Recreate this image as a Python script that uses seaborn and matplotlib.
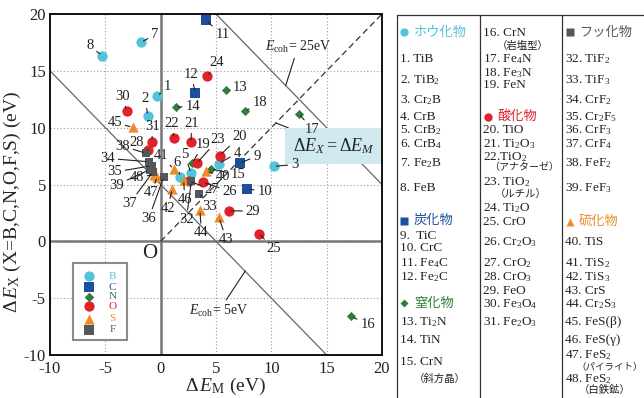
import numpy as np
import pandas as pd
import matplotlib
matplotlib.use('Agg')
import matplotlib.pyplot as plt
import seaborn as sns
from matplotlib.lines import Line2D
from matplotlib.patches import Rectangle

sns.set_theme(style='white')
plt.rcParams['font.family'] = ['Liberation Serif', 'DejaVu Serif', 'Noto Sans CJK JP']
plt.rcParams['mathtext.fontset'] = 'custom'
plt.rcParams['mathtext.rm'] = 'Liberation Serif'
plt.rcParams['mathtext.it'] = 'Liberation Serif:italic'
plt.rcParams['mathtext.bf'] = 'Liberation Serif:bold'
plt.rcParams['axes.unicode_minus'] = False

# ---------------- data ----------------
ids = list(range(1, 49))
categories = (['B'] * 8 + ['C'] * 4 + ['N'] * 7 + ['O'] * 12 + ['F'] * 8 + ['S'] * 9)
dE_M = [-0.3, -1.17, 10.2, 5.24, 2.74, 1.78, -1.78, -5.3,
        7.14, 7.83, 4.07, 3.13,
        5.93, 1.36, 4.52, 17.23, 12.5, 7.59, 2.85,
        5.33, 2.74, 1.2, 3.27, 4.22, 8.88, 3.82, 2.6, -1.15, 6.14, -3.07, -0.78,
        2.77, 3.43, -1.08, -0.8, 0.27, -0.7, -1.35, -1.0,
        4.13, 1.17, 1.05, 5.27, 3.55, -2.53, 2.08, -0.3, -0.63]
dE_X = [12.75, 11.03, 6.6, 6.83, 6.0, 5.66, 17.5, 16.33,
        6.89, 4.6, 19.44, 13.05,
        13.28, 11.82, 6.37, -6.6, 11.23, 11.43, 6.89,
        7.54, 8.7, 9.06, 6.89, 14.51, 0.68, 5.2, 5.3, 8.0, 2.7, 11.43, 8.77,
        5.28, 4.2, 7.0, 6.65, 5.68, 6.1, 7.75, 6.3,
        6.16, 6.37, 4.6, 2.1, 2.73, 10.03, 5.4, 5.7, 5.87]
label_x = [0.63, -1.38, 12.1, 6.9, 2.17, 1.45, -0.54, -6.41,
           8.7, 9.4, 5.6, 2.77,
           7.14, 2.89, 6.98, 18.7, 13.7, 8.94, 3.82,
           7.14, 2.8, 1.0, 5.18, 5.03, 10.23, 6.23, 4.58, -2.17, 8.34, -3.43, -0.75,
           2.32, 4.43, -4.79, -4.16, -1.08, -2.8, -3.43, -4.0,
           5.63, 0.0, 0.63, 5.93, 3.68, -4.16, 2.17, -0.84, -2.17]
label_y = [13.6, 12.55, 6.75, 7.77, 7.63, 6.92, 18.18, 17.21,
           7.48, 4.4, 18.18, 14.66,
           13.52, 11.85, 5.87, -7.33, 9.82, 12.2, 8.5,
           9.23, 10.35, 10.35, 8.94, 15.69, -0.67, 4.4, 4.55, 8.68, 2.64, 12.73, 10.09,
           1.91, 3.08, 7.3, 6.1, 2.0, 3.32, 8.38, 4.95,
           5.72, 7.56, 2.92, 0.15, 0.74, 10.44, 3.67, 4.26, 5.6]

cat_order = ['B', 'C', 'N', 'O', 'S', 'F']
cat_colors = {'B': '#52c3d8', 'C': '#1d4f9e', 'N': '#2f7d3a', 'O': '#e0232b',
              'S': '#f08a2c', 'F': '#55575a'}
cat_markers = {'B': 'o', 'C': 's', 'N': 'D', 'O': 'o', 'S': '^', 'F': 's'}
cat_sizes = {'B': 55, 'C': 50, 'N': 22, 'O': 55, 'S': 55, 'F': 38}
legend_sizes = {'B': 55, 'C': 60, 'N': 24, 'O': 55, 'S': 55, 'F': 42}
legend_y = [-3.08, -4.05, -4.89, -5.72, -6.83, -7.77]

# table text
col1 = [("1. TiB", 59.3), ("2. TiB$_2$", 80), ("3. Cr$_2$B", 100), ("4. CrB", 116.7),
        ("5. CrB$_2$", 130), ("6. CrB$_4$", 144), ("7. Fe$_2$B", 162.7), ("8. FeB", 188.3),
        ("9.  TiC", 236), ("10. CrC", 248.3), ("11. Fe$_4$C", 262.7), ("12. Fe$_2$C", 276.7),
        ("13. Ti$_2$N", 321.7), ("14. TiN", 340), ("15. CrN", 361.7)]
col2 = [("16. CrN", 33.3), ("17. Fe$_4$N", 59.3), ("18. Fe$_3$N", 72.7), ("19. FeN", 85),
        ("20. TiO", 130), ("21. Ti$_2$O$_3$", 144), ("22.TiO$_2$", 156.7), ("23. TiO$_2$", 181.7),
        ("24. Ti$_2$O", 208.3), ("25. CrO", 221.7), ("26. Cr$_2$O$_3$", 241.7), ("27. CrO$_2$", 263.3),
        ("28. CrO$_3$", 277.3), ("29. FeO", 291), ("30. Fe$_3$O$_4$", 304), ("31. Fe$_2$O$_3$", 321.7)]
col3 = [("32. TiF$_2$", 59.3), ("33. TiF$_3$", 80), ("34. CrF$_2$", 100), ("35. Cr$_2$F$_5$", 116.7),
        ("36. CrF$_3$", 130), ("37. CrF$_4$", 144), ("38. FeF$_2$", 162.7), ("39. FeF$_3$", 188.3),
        ("40. TiS", 241.7), ("41. TiS$_2$", 262.7), ("42. TiS$_3$", 276.7), ("43. CrS", 291),
        ("44. Cr$_2$S$_3$", 304), ("45. FeS(β)", 321.7), ("46. FeS(γ)", 340), ("47. FeS$_2$", 355),
        ("48. FeS$_2$", 378.8)]
notes = [("（斜方晶）", 414, 378.8, 7.5), ("（岩塩型）", 497, 46.3, 7.5), ("（アナターゼ）", 489, 167.5, 7.2),
         ("（ルチル）", 495, 194, 7.5), ("（パイライト）", 576, 366.5, 6.8), ("（白鉄鉱）", 579, 390, 7.5)]
headers = [("B", "ホウ化物", 400, 32.3), ("C", "炭化物", 400, 220.7), ("N", "窒化物", 400, 303.3),
           ("O", "酸化物", 483.3, 116.7), ("F", "フッ化物", 565, 32.3), ("S", "硫化物", 565, 221.7)]

df = pd.DataFrame({'id': ids, 'cat': categories, 'dEM': dE_M, 'dEX': dE_X,
                   'lx': label_x, 'ly': label_y})

# ---------------- figure ----------------
W, H = 644, 398
fig = plt.figure(figsize=(W / 100, H / 100), dpi=100)
ax = fig.add_axes([50 / W, 1 - 355 / H, 332 / W, 341 / H])

ax.set_xlim(-10, 20)
ax.set_ylim(-10, 20)
ax.set_xticks([-10, -5, 0, 5, 10, 15, 20])
ax.set_yticks([-10, -5, 0, 5, 10, 15, 20])
ax.tick_params(length=0, labelsize=12, pad=3)
ax.tick_params(axis='x', pad=4)
for lab in ax.get_xticklabels() + ax.get_yticklabels():
    lab.set_color('#222222')
for sp in ax.spines.values():
    sp.set_color('#111111')
    sp.set_linewidth(1.4)
    sp.set_zorder(6)

ax.grid(True, linestyle=(0, (1, 2)), color='#9a9a9a', linewidth=0.8)
ax.axhline(0, color='#777777', lw=1.8, zorder=1)
ax.axvline(0, color='#777777', lw=1.8, zorder=1)

# reference lines
ax.plot([-10, 15], [15, -10], color='#666666', lw=0.9, zorder=2)
ax.plot([5, 20], [20, 5], color='#666666', lw=0.9, zorder=2)
ax.plot([0, 20], [0, 20], color='#333333', lw=0.9, ls=(0, (5, 3)), zorder=2)

# points
for c in cat_order:
    sub = df[df['cat'] == c]
    sns.scatterplot(data=sub, x='dEM', y='dEX', marker=cat_markers[c], color=cat_colors[c],
                    s=cat_sizes[c], linewidth=0, ax=ax, zorder=4, legend=False)

# labels with leader lines
for _, r in df.iterrows():
    ax.annotate(str(r['id']), xy=(r['dEM'], r['dEX']), xytext=(r['lx'], r['ly']),
                ha='center', va='center', fontsize=10.5, color='#222222', zorder=7,
                arrowprops=dict(arrowstyle='-', color='#222222', lw=0.8,
                                shrinkA=0, shrinkB=2))

ax.set_xlabel(r'$\Delta\,E_{\mathrm{M}}$ (eV)', fontsize=14)
ax.set_ylabel(r'$\Delta\,E_{\mathrm{X}}$ (X=B,C,N,O,F,S) (eV)', fontsize=14)
ax.xaxis.set_label_coords(0.53, -0.062)
ax.yaxis.set_label_coords(-0.08, 0.45)

# annotations
ax.text(-1.0, -1.1, 'O', fontsize=15, ha='center', va='center', color='#222222')
ax.annotate(r'$E_{\mathrm{coh}}$= 25eV', xy=(11.3, 13.7), xytext=(12.4, 17.1),
            fontsize=10, ha='center', va='center',
            arrowprops=dict(arrowstyle='-', color='#222222', lw=0.8, shrinkA=0, shrinkB=0))
ax.annotate(r'$E_{\mathrm{coh}}$= 5eV', xy=(7.65, -2.6), xytext=(5.24, -6.16),
            fontsize=10, ha='center', va='center',
            arrowprops=dict(arrowstyle='-', color='#222222', lw=0.8, shrinkA=0, shrinkB=0))
ax.annotate(r'$\Delta E_X = \Delta E_M$', xy=(10.45, 10.4), xytext=(15.65, 8.4),
            fontsize=13, ha='center', va='center', zorder=3,
            bbox=dict(boxstyle='square,pad=0.45', fc='#cfe9ef', ec='none'),
            arrowprops=dict(arrowstyle='-', color='#222222', lw=0.8, shrinkA=0, shrinkB=0))

# legend (drawn in data coordinates)
ax.add_patch(Rectangle((-7.95, -8.72), 4.93, 6.81, fill=True, fc='white', ec='#8a8a8a',
                       lw=1.5, zorder=5))
for c, yy in zip(cat_order, legend_y):
    ax.scatter([-6.48], [yy], marker=cat_markers[c], s=legend_sizes[c], color=cat_colors[c],
               linewidths=0, zorder=6)
    ax.text(-4.36, yy, c, color=cat_colors[c], fontsize=8, ha='center', va='center', zorder=6)

# ---------------- table ----------------
def fx(px):
    return px / W

def fy(py):
    return 1 - py / H

tc = '#333333'
for x0 in [396.7, 480, 561.7]:
    fig.add_artist(Line2D([fx(x0), fx(x0)], [fy(15), fy(398)], color=tc, lw=0.9))
fig.add_artist(Line2D([fx(396.7), fx(644)], [fy(15), fy(15)], color=tc, lw=0.9))

for x0, col in [(400, col1), (483.3, col2), (565, col3)]:
    for txt, y in col:
        fig.text(fx(x0), fy(y), txt, fontsize=9.5, ha='left', va='center', color='#222222')
for txt, x, y, fs in notes:
    fig.text(fx(x), fy(y), txt, fontsize=fs, ha='left', va='center', color='#222222',
             family=['Noto Sans CJK JP'])
hdr_mark = {'B': ('o', 6), 'C': ('s', 6), 'N': ('D', 4.5), 'O': ('o', 6), 'F': ('s', 5.5), 'S': ('^', 6)}
for c, txt, x, y in headers:
    m, ms = hdr_mark[c]
    fig.add_artist(Line2D([fx(x + 4.5)], [fy(y)], marker=m, color='none',
                          markerfacecolor=cat_colors[c], markeredgecolor='none', markersize=ms))
    fig.text(fx(x + 14), fy(y), txt, fontsize=9.5, ha='left', va='center', color=cat_colors[c],
             family=['Noto Sans CJK JP'])

fig.savefig('out.png', dpi=100)
